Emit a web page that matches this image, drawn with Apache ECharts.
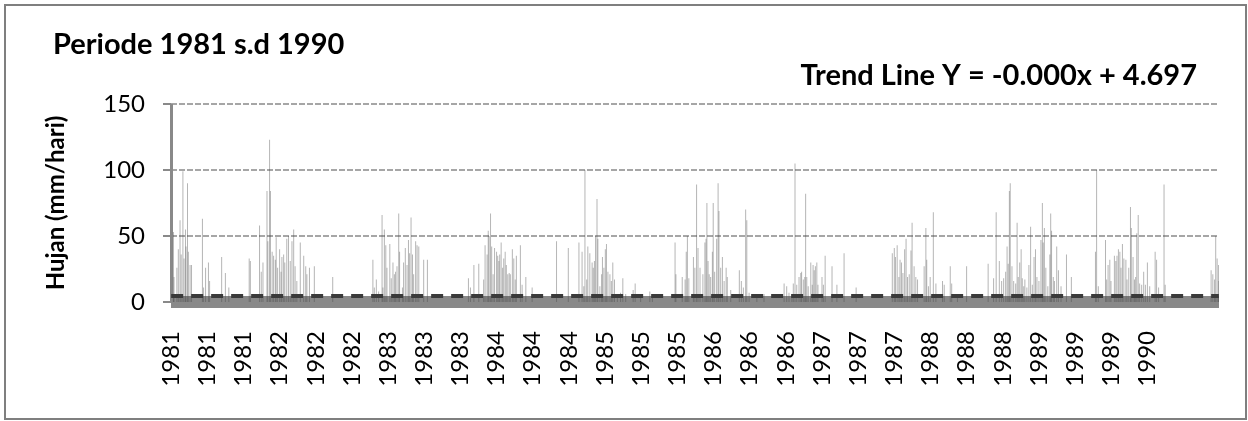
<!DOCTYPE html>
<html>
<head>
<meta charset="utf-8">
<script src="https://cdn.jsdelivr.net/npm/echarts@6/dist/echarts.min.js"></script>
<style>
html,body{margin:0;padding:0;background:#fff;}
#chart{width:1248px;height:421px;}
</style>
</head>
<body>
<div id="chart"></div>
<script>
// ---- data (day index from 1981-01-01, rainfall mm/day) ----
const startYear = 1981;
const dayCount = 3652;
const rain1981_82 = [[8,53],[10,19],[20,26],[25,40],[31,62],[35,36],[41,99],[45,33],[50,55],[52,42],[57,90],[60,38],[66,28],[71,28],[109,63],[113,11],[120,26],[130,30],[134,16],[176,34],[189,22],[201,11],[272,33],[276,31],[308,58],[314,23],[320,30],[334,84],[337,46],[343,123],[346,84],[352,38],[357,35],[363,32],[366,49],[371,26],[378,40],[383,23],[386,34],[392,36],[396,30],[403,48],[409,50],[415,31],[421,46],[427,55],[432,27],[438,16],[450,45],[462,35],[469,27],[473,21],[482,26],[499,27],[563,19],[703,32],[708,11],[715,17],[723,8]];
const rain1983_84 = [[735,66],[738,11],[743,55],[748,43],[752,26],[762,44],[767,18],[773,30],[778,21],[782,23],[787,27],[793,67],[796,38],[806,11],[810,30],[816,41],[822,28],[827,47],[831,37],[836,64],[841,36],[845,21],[852,46],[857,43],[863,42],[880,32],[893,32],[1036,18],[1043,11],[1055,28],[1072,29],[1089,17],[1094,43],[1101,36],[1105,54],[1108,50],[1113,67],[1117,42],[1122,21],[1127,41],[1134,38],[1138,35],[1142,31],[1145,36],[1150,45],[1155,26],[1159,33],[1164,38],[1168,28],[1173,21],[1178,22],[1182,21],[1189,40],[1194,33],[1199,17],[1203,35],[1217,43],[1223,13],[1236,19],[1258,11],[1343,46],[1384,41],[1421,45],[1432,38],[1438,12],[1442,100],[1448,17],[1452,42],[1459,37]];
const rain1985_86 = [[1467,30],[1471,26],[1475,31],[1479,50],[1484,78],[1487,48],[1494,12],[1500,21],[1503,34],[1508,26],[1513,40],[1517,44],[1522,23],[1529,21],[1534,16],[1539,30],[1545,17],[1555,6],[1566,7],[1574,18],[1584,6],[1610,9],[1617,14],[1636,4],[1668,8],[1677,6],[1756,45],[1759,21],[1781,19],[1791,17],[1795,38],[1799,50],[1804,18],[1820,34],[1825,26],[1831,89],[1836,41],[1843,26],[1853,21],[1860,45],[1864,48],[1867,75],[1871,31],[1875,21],[1880,19],[1886,38],[1889,75],[1894,23],[1901,48],[1906,90],[1909,69],[1915,26],[1921,34],[1927,16],[1934,26],[1938,19],[1950,9],[1980,24],[1987,16],[1994,11],[2002,70],[2006,62],[2014,7],[2041,6],[2066,6],[2136,14],[2145,12],[2153,7],[2163,6],[2168,14],[2174,105],[2180,13],[2188,19],[2194,22]];
const rain1987_88 = [[2197,23],[2203,17],[2208,19],[2211,82],[2215,19],[2220,12],[2229,30],[2234,13],[2237,28],[2241,24],[2245,27],[2250,30],[2254,13],[2268,19],[2273,13],[2279,35],[2303,27],[2320,13],[2345,37],[2387,11],[2513,37],[2520,41],[2524,34],[2530,43],[2536,19],[2540,32],[2545,30],[2550,22],[2556,40],[2561,48],[2566,19],[2572,21],[2578,39],[2582,60],[2589,27],[2595,19],[2601,17],[2624,27],[2630,56],[2633,32],[2639,12],[2645,19],[2656,68],[2665,14],[2688,16],[2694,13],[2715,27],[2720,14],[2740,6],[2772,27],[2847,29],[2866,18],[2875,68],[2886,31],[2894,16],[2901,18],[2908,23],[2913,42],[2917,29],[2921,84],[2924,90]];
const rain1989_90 = [[2930,27],[2936,16],[2943,14],[2948,60],[2952,19],[2957,30],[2962,40],[2966,18],[2971,12],[2975,17],[2982,11],[2989,28],[2995,57],[3001,13],[3007,34],[3012,40],[3017,19],[3024,16],[3031,47],[3036,75],[3039,45],[3043,56],[3048,26],[3055,12],[3062,36],[3065,67],[3068,54],[3074,19],[3078,16],[3086,42],[3092,24],[3101,12],[3120,36],[3137,19],[3221,38],[3225,100],[3231,12],[3256,47],[3260,17],[3265,28],[3271,32],[3275,16],[3287,35],[3292,31],[3296,35],[3301,40],[3306,38],[3310,26],[3315,44],[3320,33],[3327,32],[3331,17],[3337,26],[3343,72],[3346,56],[3352,34],[3357,17],[3361,19],[3365,52],[3370,66],[3375,14],[3382,13],[3389,23],[3395,13],[3402,30],[3410,12],[3429,38],[3434,32],[3441,11],[3460,89],[3464,13],[3624,24],[3630,21],[3636,17],[3640,50],[3645,33],[3650,28],[3651,16]];
const trendSlope = -0.00005;
const trendIntercept = 4.697;
const yTicks = [0, 50, 100, 150];

// ---- build categories (year of each day) and daily values ----
const categories = [];
for (let i = 0; i < dayCount; i++) {
  categories.push(String(new Date(Date.UTC(startYear, 0, 1 + i)).getUTCFullYear()));
}
const daily = new Array(dayCount).fill(0);
[rain1981_82, rain1983_84, rain1985_86, rain1987_88, rain1989_90].forEach(seg => {
  seg.forEach(([d, v]) => { daily[d] = v; });
});

const FONT = 'Lato';
const chart = echarts.init(document.getElementById('chart'), null, {renderer: 'canvas'});
const trendText = 'Trend Line Y = ' + trendSlope.toFixed(3) + 'x + ' + trendIntercept.toFixed(3);

chart.setOption({
  animation: false,
  backgroundColor: '#fff',
  textStyle: {fontFamily: FONT},
  title: [
    {text: 'Periode 1981 s.d 1990', left: 48, top: 25,
     textStyle: {fontFamily: FONT, fontWeight: 'bold', fontSize: 29, color: '#000'}},
    {text: trendText, right: 46, top: 56,
     textStyle: {fontFamily: FONT, fontWeight: 'bold', fontSize: 29, color: '#000'}}
  ],
  graphic: [{
    type: 'rect', shape: {x: 5, y: 5, width: 1241, height: 414},
    style: {fill: null, stroke: '#7f7f7f', lineWidth: 2}, silent: true, z: -1
  }],
  grid: {left: 171, right: 29, top: 104, bottom: 119, containLabel: false},
  xAxis: {
    type: 'category',
    data: categories,
    offset: 5,
    axisLine: {show: true, lineStyle: {color: '#898989', width: 12, cap: 'butt'}},
    axisTick: {show: false},
    axisLabel: {interval: 125, rotate: 90, margin: 24, fontSize: 24, color: '#000',
                fontFamily: FONT, showMaxLabel: false},
    splitLine: {show: false}
  },
  yAxis: {
    type: 'value', min: yTicks[0], max: yTicks[yTicks.length - 1], interval: 50,
    name: 'Hujan (mm/hari)', nameLocation: 'middle', nameGap: 103,
    nameTextStyle: {fontFamily: FONT, fontWeight: 'bold', fontSize: 24, color: '#000'},
    axisLine: {show: true, lineStyle: {color: '#898989', width: 3, cap: 'butt'}},
    axisTick: {show: true, length: 8, lineStyle: {color: '#898989', width: 2}},
    axisLabel: {margin: 26, fontSize: 24, color: '#000', fontFamily: FONT},
    splitLine: {show: true, lineStyle: {color: '#a6a6a6', width: 2, type: [6, 2]}}
  },
  series: [{
    type: 'bar',
    data: daily,
    barWidth: '100%',
    itemStyle: {color: 'rgba(70,70,70,0.4)'},
    progressive: 0,
    silent: true,
    markLine: {
      silent: true, symbol: 'none', label: {show: false},
      lineStyle: {color: '#3a3a3a', width: 4, type: [12, 8], cap: 'butt'},
      data: [[
        {coord: [0, trendIntercept + trendSlope * 1]},
        {coord: [dayCount - 1, trendIntercept + trendSlope * dayCount]}
      ]]
    }
  }]
});
</script>
</body>
</html>
